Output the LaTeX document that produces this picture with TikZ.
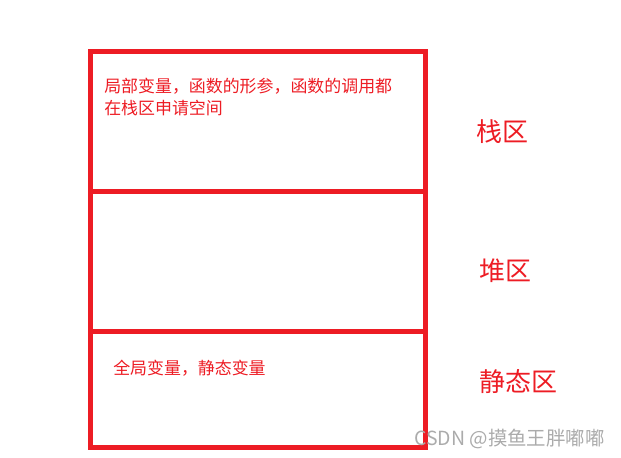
\documentclass[tikz,border=0pt]{standalone}
\usepackage{fontspec}
\newfontfamily\cjkfont{Noto Sans CJK SC}
\definecolor{memred}{HTML}{ED1C24}
\definecolor{wmgray}{HTML}{ABABAB}
\begin{document}
\begin{tikzpicture}[x=0.75pt,y=-0.75pt,
    zone/.style={draw=memred,line width=3.75pt,minimum width=251.6pt,inner sep=0pt,outer sep=0pt,anchor=north west},
    note/.style={text=memred,font=\cjkfont\fontsize{12.7pt}{16pt}\selectfont,inner sep=0pt,anchor=base west},
    tag/.style={text=memred,font=\cjkfont\fontsize{19.5pt}{23pt}\selectfont,inner sep=0pt,anchor=base west},
    wmark/.style={text=wmgray,font=\cjkfont\fontsize{14.6pt}{17pt}\selectfont,inner sep=0pt,anchor=base west}]
  \useasboundingbox (0,0) rectangle (621,457);
  % memory zones
  \node[zone,minimum height=105.4pt] (stack) at (90.5,51) {};
  \node[zone,minimum height=105pt] (heap) at (stack.south west) {};
  \node[zone,minimum height=87pt] (static) at (heap.south west) {};
  % texts inside
  \node[note] (stacknote1) at (104,92) {局部变量，函数的形参，函数的调用都};
  \node[note] (stacknote2) at (104,114.5) {在栈区申请空间};
  \node[note] (staticnote) at (113,374) {全局变量，静态变量};
  % zone names
  \node[tag] (stacktag) at (476,141.5) {栈区};
  \node[tag] (heaptag) at (479,280.5) {堆区};
  \node[tag] (statictag) at (479,391.5) {静态区};
  \node[wmark] (credit) at (414,445) {CSDN @摸鱼王胖嘟嘟};
\end{tikzpicture}
\end{document}
